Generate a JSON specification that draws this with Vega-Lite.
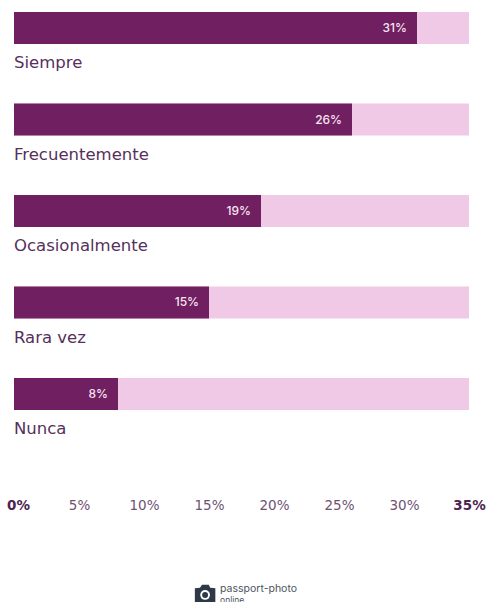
{
  "$schema": "https://vega.github.io/schema/vega-lite/v6.json",
  "width": 455,
  "height": 398,
  "autosize": {"type": "none"},
  "padding": {"left": 14, "top": 12, "right": 17, "bottom": 192},
  "background": "white",
  "config": {"view": {"stroke": null}},
  "datasets": {
    "respuestas": [
      {"frecuencia": "Siempre", "porcentaje": 31, "etiqueta": "31%"},
      {"frecuencia": "Frecuentemente", "porcentaje": 26, "etiqueta": "26%"},
      {"frecuencia": "Ocasionalmente", "porcentaje": 19, "etiqueta": "19%"},
      {"frecuencia": "Rara vez", "porcentaje": 15, "etiqueta": "15%"},
      {"frecuencia": "Nunca", "porcentaje": 8, "etiqueta": "8%"}
    ],
    "marca": [
      {"frecuencia": "Nunca", "icono": 14.7, "texto": 15.85, "linea1": "passport-photo", "linea2": "online"}
    ]
  },
  "data": {"name": "respuestas"},
  "encoding": {
    "y": {
      "field": "frecuencia",
      "type": "nominal",
      "sort": null,
      "axis": null,
      "scale": {"domain": ["Siempre", "Frecuentemente", "Ocasionalmente", "Rara vez", "Nunca"], "paddingInner": 0.65, "paddingOuter": 0}
    }
  },
  "layer": [
    {
      "mark": {"type": "bar", "color": "#efc9e6"},
      "encoding": {
        "x": {
          "datum": 35,
          "type": "quantitative",
          "scale": {"domain": [0, 35], "nice": false},
          "axis": {
            "title": null,
            "values": [0, 5, 10, 15, 20, 25, 30, 35],
            "labelExpr": "datum.value + '%'",
            "grid": false,
            "domain": false,
            "ticks": false,
            "labelPadding": 95,
            "labelFont": "DejaVu Sans",
            "labelFontSize": 13.5,
            "labelBaseline": "middle",
            "labelFlush": false,
            "labelOverlap": false,
            "labelBound": false,
            "labelOffset": {"condition": {"test": "datum.value === 0", "value": 4}, "value": 0},
            "labelColor": {"condition": {"test": "datum.value === 0 || datum.value === 35", "value": "#4d2350"}, "value": "#6e5272"},
            "labelFontWeight": {"condition": {"test": "datum.value === 0 || datum.value === 35", "value": 700}, "value": 400}
          }
        }
      }
    },
    {
      "mark": {"type": "bar", "color": "#701f60"},
      "encoding": {"x": {"field": "porcentaje", "type": "quantitative"}}
    },
    {
      "mark": {"type": "text", "align": "right", "dx": -10, "font": "Inter", "fontSize": 12, "fontWeight": 500, "color": "#f6e6f2"},
      "encoding": {
        "x": {"field": "porcentaje", "type": "quantitative"},
        "text": {"field": "etiqueta"}
      }
    },
    {
      "mark": {"type": "text", "align": "left", "baseline": "middle", "dy": 19, "font": "DejaVu Sans", "fontSize": 16.5, "color": "#56305c"},
      "encoding": {
        "x": {"datum": 0, "type": "quantitative"},
        "y": {"field": "frecuencia", "type": "nominal", "sort": null, "bandPosition": 1},
        "text": {"field": "frecuencia"}
      }
    },
    {
      "data": {"name": "marca"},
      "mark": {"type": "point", "filled": true, "opacity": 1, "color": "#2b3a46", "size": 420, "yOffset": 200,
        "shape": "M-1,-0.55 L-0.5,-0.6 L-0.3,-0.9 L0.35,-0.9 L0.5,-0.6 L1,-0.55 L1,0.85 L-1,0.85 Z"},
      "encoding": {
        "x": {"field": "icono", "type": "quantitative"}
      }
    },
    {
      "data": {"name": "marca"},
      "mark": {"type": "point", "filled": true, "opacity": 1, "color": "#ffffff", "size": 95, "shape": "circle", "yOffset": 201},
      "encoding": {
        "x": {"field": "icono", "type": "quantitative"}
      }
    },
    {
      "data": {"name": "marca"},
      "mark": {"type": "point", "filled": true, "opacity": 1, "color": "#2b3a46", "size": 35, "shape": "circle", "yOffset": 201},
      "encoding": {
        "x": {"field": "icono", "type": "quantitative"}
      }
    },
    {
      "data": {"name": "marca"},
      "mark": {"type": "text", "align": "left", "baseline": "middle", "yOffset": 195, "font": "Inter", "fontSize": 10.5, "color": "#4d5560"},
      "encoding": {
        "x": {"field": "texto", "type": "quantitative"},
        "text": {"field": "linea1"}
      }
    },
    {
      "data": {"name": "marca"},
      "mark": {"type": "text", "align": "left", "baseline": "middle", "yOffset": 206, "font": "Inter", "fontSize": 8.5, "color": "#4d5560"},
      "encoding": {
        "x": {"field": "texto", "type": "quantitative"},
        "text": {"field": "linea2"}
      }
    }
  ]
}
